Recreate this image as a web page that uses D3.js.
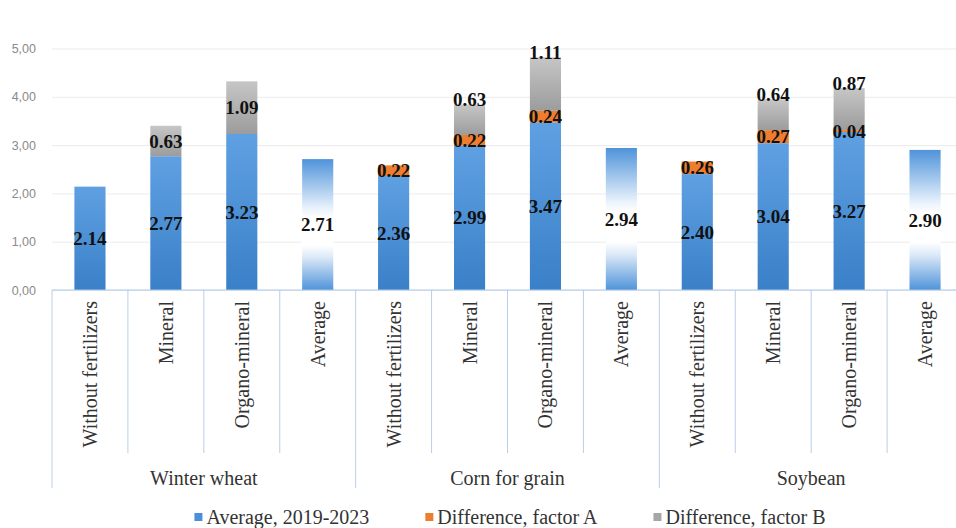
<!DOCTYPE html>
<html>
<head>
<meta charset="utf-8">
<script src="https://cdn.jsdelivr.net/npm/d3@7"></script>
<style>
  body { margin: 0; background: #fff; }
  svg { display: block; }
  .serif { font-family: "Liberation Serif", "Times New Roman", serif; }
</style>
</head>
<body>
<div id="chart"></div>
<script>
const crops = ["Winter wheat", "Corn for grain", "Soybean"];
const treatments = ["Without fertilizers", "Mineral", "Organo-mineral", "Average"];

// one value per bar, crop by crop, treatment by treatment
const avgValues = [2.14, 2.77, 3.23, 2.71, 2.36, 2.99, 3.47, 2.94, 2.40, 3.04, 3.27, 2.90];
const factorA   = [0, 0, 0, 0, 0.22, 0.22, 0.24, 0, 0.26, 0.27, 0.04, 0];
const factorB   = [0, 0.63, 1.09, 0, 0, 0.63, 1.11, 0, 0, 0.64, 0.87, 0];

const yTicks = [0, 1, 2, 3, 4, 5];
const legendLabels = ["Average, 2019-2023", "Difference, factor A", "Difference, factor B"];

const W = 956, H = 528;
const plotLeft = 52, plotRight = 963, base = 290, plotTop = 48.5;

const svg = d3.select("#chart").append("svg")
  .attr("width", W)
  .attr("height", H);

const defs = svg.append("defs");

function grad(id, stops) {
  const g = defs.append("linearGradient").attr("id", id)
    .attr("x1", 0).attr("y1", 0).attr("x2", 0).attr("y2", 1);
  stops.forEach(s => g.append("stop").attr("offset", s[0]).attr("stop-color", s[1]));
}
grad("blueGrad", [[0, "#5fa0e2"], [1, "#3a80c8"]]);
grad("avgGrad", [[0, "#4f93da"], [0.38, "#eaf3fc"], [0.45, "#ffffff"], [0.66, "#ffffff"], [0.75, "#dbe9f7"], [1, "#4f93da"]]);
grad("grayGrad", [[0, "#c6c6c6"], [1, "#9c9c9c"]]);

const rows = [];
crops.forEach((c, ci) => treatments.forEach((t, ti) => {
  const i = ci * treatments.length + ti;
  rows.push({ i, crop: c, ci, treat: t, avg: avgValues[i], a: factorA[i], b: factorB[i] });
}));

const x = d3.scaleBand()
  .domain(rows.map(d => d.i))
  .range([plotLeft, plotRight]);

const barW = x.bandwidth() * 0.41;

const y = d3.scaleLinear()
  .domain([0, 5])
  .range([base, plotTop]);

// =========================
// GRID + Y AXIS
// =========================
const yAxis = svg.append("g")
  .attr("transform", `translate(${plotLeft},0)`)
  .call(d3.axisLeft(y).tickValues(yTicks).tickSize(-(W - plotLeft)).tickFormat(d => d3.format(".2f")(d).replace(".", ",")));
yAxis.select(".domain").remove();
yAxis.selectAll(".tick line").attr("stroke", "#ebebeb");
yAxis.selectAll(".tick text")
  .attr("x", -16)
  .style("font-family", "'Liberation Sans', Arial, sans-serif")
  .style("font-size", "12.5px")
  .style("fill", "#8a8a8a");

// =========================
// BARS
// =========================
const bars = svg.append("g");

bars.selectAll(".blue")
  .data(rows)
  .join("rect")
  .attr("x", d => x(d.i) + (x.bandwidth() - barW) / 2)
  .attr("width", barW)
  .attr("y", d => y(d.avg))
  .attr("height", d => base - y(d.avg))
  .attr("fill", d => d.treat === "Average" ? "url(#avgGrad)" : "url(#blueGrad)");

bars.selectAll(".orange")
  .data(rows.filter(d => d.a > 0))
  .join("rect")
  .attr("x", d => x(d.i) + (x.bandwidth() - barW) / 2)
  .attr("width", barW)
  .attr("y", d => y(d.avg + d.a))
  .attr("height", d => y(d.avg) - y(d.avg + d.a))
  .attr("fill", "#ee7d2f");

bars.selectAll(".gray")
  .data(rows.filter(d => d.b > 0))
  .join("rect")
  .attr("x", d => x(d.i) + (x.bandwidth() - barW) / 2)
  .attr("width", barW)
  .attr("y", d => y(d.avg + d.a + d.b))
  .attr("height", d => y(d.avg + d.a) - y(d.avg + d.a + d.b))
  .attr("fill", "url(#grayGrad)");

// =========================
// VALUE LABELS
// =========================
const labels = [];
rows.forEach(d => {
  labels.push({ i: d.i, v: d.avg, pos: y(d.avg / 2) });
  if (d.a > 0) labels.push({ i: d.i, v: d.a, pos: y(d.avg + d.a / 2) });
  if (d.b > 0) {
    // wheat labels sit mid-segment, the others were pushed to the top edge
    const p = d.ci === 0 ? y(d.avg + d.a + d.b / 2) : y(d.avg + d.a + d.b) - 5;
    labels.push({ i: d.i, v: d.b, pos: p });
  }
});

svg.append("g").selectAll("text")
  .data(labels)
  .join("text")
  .attr("class", "serif")
  .attr("x", d => x(d.i) + x.bandwidth() / 2)
  .attr("y", d => d.pos)
  .attr("dy", "0.35em")
  .attr("text-anchor", "middle")
  .style("font-weight", "bold")
  .style("font-size", "19px")
  .style("fill", "#111")
  .text(d => d.v.toFixed(2));

// =========================
// CATEGORY AXIS
// =========================
const axisG = svg.append("g");
axisG.append("line")
  .attr("x1", plotLeft).attr("x2", W)
  .attr("y1", base).attr("y2", base)
  .attr("stroke", "#a9c9ea").attr("stroke-width", 1.2);

const edges = d3.range(rows.length + 1);
axisG.selectAll(".sep")
  .data(edges)
  .join("line")
  .attr("x1", k => k < rows.length ? x(k) : x(k - 1) + x.bandwidth())
  .attr("x2", k => k < rows.length ? x(k) : x(k - 1) + x.bandwidth())
  .attr("y1", base)
  .attr("y2", k => k % treatments.length === 0 ? 488 : 453)
  .attr("stroke", "#b8cfe9")
  .attr("stroke-width", 1);

axisG.selectAll(".cat")
  .data(rows)
  .join("text")
  .attr("class", "serif")
  .attr("transform", d => `translate(${x(d.i) + x.bandwidth() / 2},301) rotate(-90)`)
  .attr("dy", "0.35em")
  .attr("text-anchor", "end")
  .style("font-size", "20px")
  .style("fill", "#333")
  .text(d => d.treat);

axisG.selectAll(".crop")
  .data(crops)
  .join("text")
  .attr("class", "serif")
  .attr("x", (c, ci) => (x(ci * 4) + x(ci * 4 + 3) + x.bandwidth()) / 2)
  .attr("y", 478)
  .attr("dy", "0.35em")
  .attr("text-anchor", "middle")
  .style("font-size", "20px")
  .style("fill", "#333")
  .text(d => d);

// =========================
// LEGEND
// =========================
const legendColors = ["#4a8fd8", "#ee7d2f", "#a6a6a6"];
const gap = 56;
const legend = svg.append("g");
const items = legend.selectAll("g")
  .data(legendLabels)
  .join("g");
items.append("rect")
  .attr("width", 8).attr("height", 8)
  .attr("y", -4)
  .attr("fill", (d, i) => legendColors[i]);
items.append("text")
  .attr("class", "serif")
  .attr("x", 12)
  .attr("dy", "0.35em")
  .style("font-size", "20px")
  .style("fill", "#333")
  .text(d => d);

let cursor = 0;
const offsets = [];
items.each(function() {
  offsets.push(cursor);
  cursor += 12 + d3.select(this).select("text").node().getComputedTextLength() + gap;
});
const totalW = cursor - gap;
const startX = 510 - totalW / 2;
items.attr("transform", (d, i) => `translate(${startX + offsets[i]},517)`);
</script>
</body>
</html>
